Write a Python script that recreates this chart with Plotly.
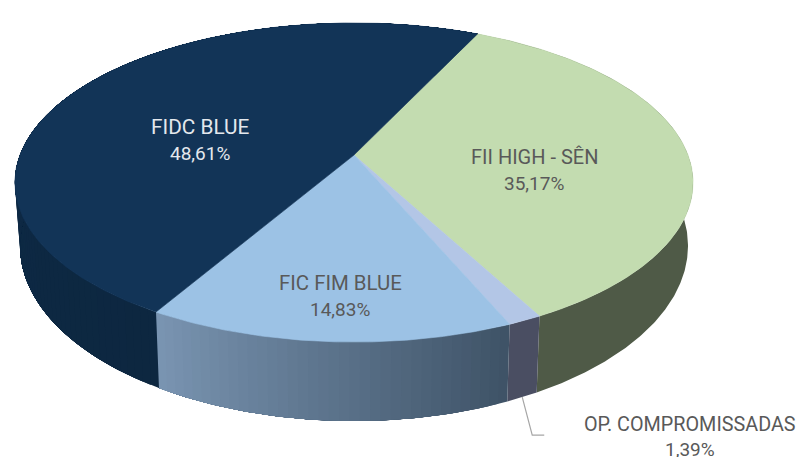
import numpy as np
import plotly.graph_objects as go

# ---- data ----
categories = ["FII HIGH - SÊN", "OP. COMPROMISSADAS", "FIC FIM BLUE", "FIDC BLUE"]
shares = [35.17, 1.39, 14.83, 48.61]

# ---- styles ----
top_colors = ["#C3DCB0", "#B3C6E6", "#9CC2E5", "#123457"]
side_left = ["#4F5A47", "#4A4E62", "#7A95B2", "#0F2E4E"]
side_right = ["#4F5A47", "#4A4E62", "#3E5266", "#0D2740"]
text_colors = ["#595959", "#595959", "#595959", "#E4E8ED"]
label_pos = [(534, 157, 183), (690, 424, 449), (340, 283, 309), (200, 127, 153)]
name_sizes = [20, 19.8, 20.4, 20.8]
FONT = "Roboto"
PCT_SIZE = 19

START_ANGLE = 25.3
K = 0.1724
CX = 354.0
TOP = dict(y0=155.0, a=334.0, b=154.8)
BOTTOM = dict(y0=215.6, a=329.0, b=170.0)


def project(theta_deg, disc):
    t = np.radians(theta_deg)
    u, v = np.sin(t), np.cos(t)
    w = 1 + K * v
    return CX + disc["a"] * u / w, disc["y0"] - disc["b"] * v / w


def lerp_hex(c1, c2, f):
    a = [int(c1[i:i + 2], 16) for i in (1, 3, 5)]
    b = [int(c2[i:i + 2], 16) for i in (1, 3, 5)]
    return "#" + "".join(f"{round(x + (y - x) * f):02X}" for x, y in zip(a, b))


def poly(xs, ys, color, lw=0.6):
    return go.Scatter(x=list(xs), y=list(ys), mode="lines", fill="toself", fillcolor=color,
                      line=dict(color=color, width=lw), hoverinfo="skip", showlegend=False)


fig = go.Figure()
edges = START_ANGLE + np.concatenate([[0], np.cumsum(shares)]) * 3.6

# walls: each gradient band is painted from its start to the end of the wall,
# so later bands lie on earlier ones and no seam shows
for i in range(len(shares)):
    a0, a1 = edges[i], edges[i + 1]
    nb = max(1, int(round((a1 - a0) / 1.5))) if side_left[i] != side_right[i] else 1
    cuts = np.linspace(a0, a1, nb + 1)
    for j in range(nb):
        th = np.linspace(cuts[j], a1, max(3, int((a1 - cuts[j]) * 2)))
        xt, yt = project(th, TOP)
        xb, yb = project(th[::-1], BOTTOM)
        col = lerp_hex(side_right[i], side_left[i], (j + 0.5) / nb)
        fig.add_trace(poly(np.r_[xt, xb, xt[0]], np.r_[yt, yb, yt[0]], col, lw=0))

# top faces
for i in range(len(shares)):
    th = np.linspace(edges[i], edges[i + 1], max(3, int((edges[i + 1] - edges[i]) * 2)))
    xt, yt = project(th, TOP)
    fig.add_trace(poly(np.r_[CX, xt, CX], np.r_[TOP["y0"], yt, TOP["y0"]], top_colors[i]))

# leader line for the thin slice
mid = (edges[1] + edges[2]) / 2
lx, ly = project(mid, BOTTOM)
fig.add_trace(go.Scatter(x=[lx, lx + 10, lx + 22], y=[ly, ly + 38, ly + 38], mode="lines",
                         line=dict(color="#A6A6A6", width=1.2), hoverinfo="skip", showlegend=False))

# labels
annotations = []
for name, val, col, (x, y1, y2), ns in zip(categories, shares, text_colors, label_pos, name_sizes):
    for txt, y, sz in ((name, y1, ns), (f"{val:.2f}%".replace(".", ","), y2, PCT_SIZE)):
        annotations.append(dict(x=x, y=y, text=txt, showarrow=False, xanchor="center", yanchor="middle",
                                font=dict(family=FONT, size=sz, color=col)))

fig.update_layout(
    width=797, height=457, margin=dict(l=0, r=0, t=0, b=0),
    paper_bgcolor="white", plot_bgcolor="white", showlegend=False, annotations=annotations,
    xaxis=dict(range=[0, 797], visible=False, fixedrange=True),
    yaxis=dict(range=[457, 0], visible=False, fixedrange=True),
)
fig.write_html("out.html", config=dict(displayModeBar=False),
               post_script="document.body.style.margin='0';document.body.style.overflow='hidden';")
